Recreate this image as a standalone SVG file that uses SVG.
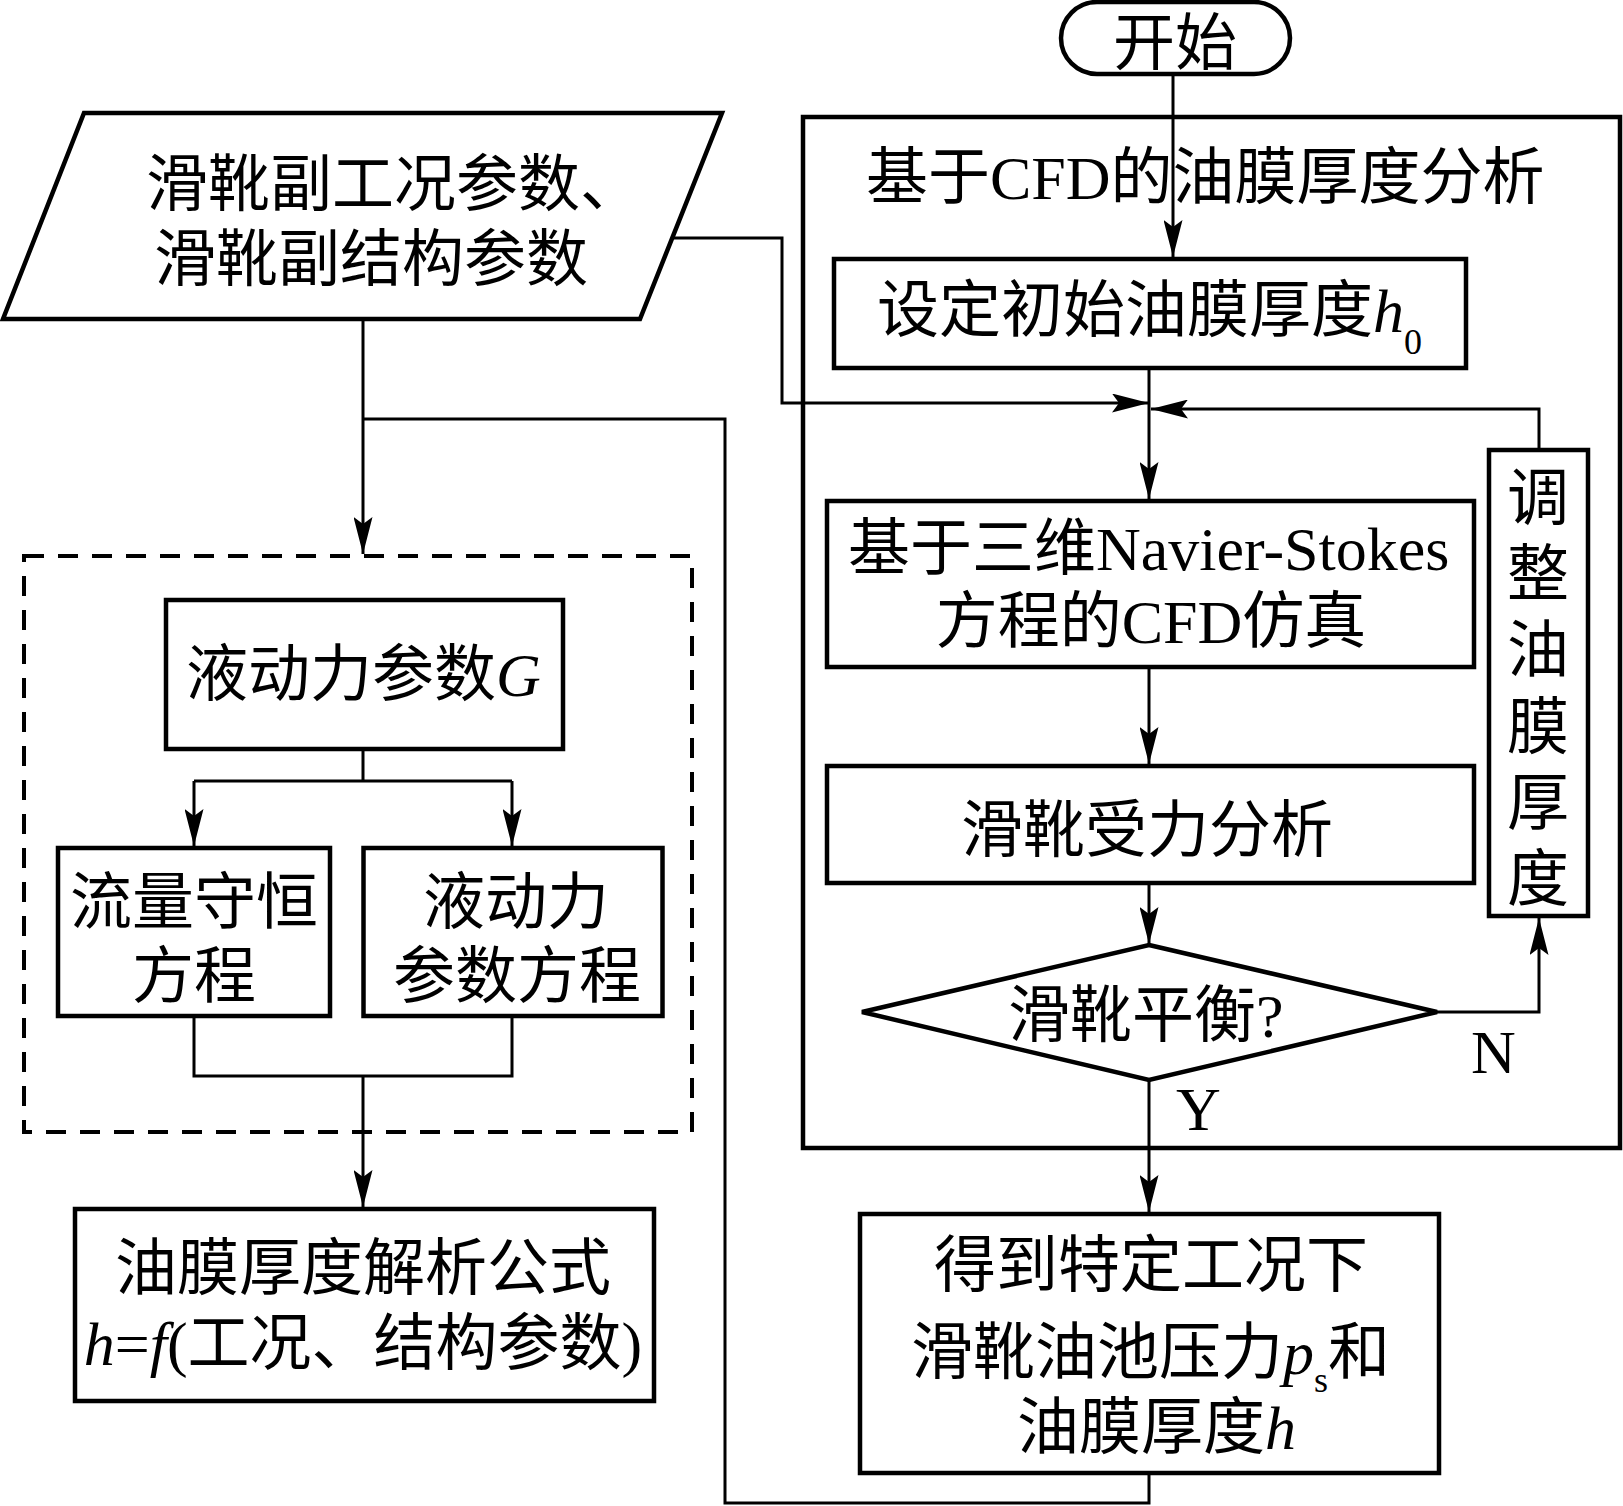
<svg xmlns="http://www.w3.org/2000/svg" width="1623" height="1506" viewBox="0 0 1623 1506">
<style>
.box{fill:#fff;stroke:#000;stroke-width:4.5}
.dash{fill:none;stroke:#000;stroke-width:4;stroke-dasharray:20 14}
.con{fill:none;stroke:#000;stroke-width:3}
.t{font-family:"Liberation Serif","Noto Sans CJK SC",serif;font-size:62px;fill:#000}
.m{text-anchor:middle}
.i{font-style:italic}
</style>
<defs>
<marker id="arr" markerUnits="userSpaceOnUse" viewBox="0 0 37 19" refX="37" refY="9.5" markerWidth="37" markerHeight="19" orient="auto">
<path d="M37,9.5 L0,0 L7,9.5 L0,19 Z" fill="#000"/>
</marker>
</defs>
<rect width="1623" height="1506" fill="#fff"/>

<g id="outer-cfd">
<rect x="803" y="117" width="817" height="1031" fill="none" stroke="#000" stroke-width="4.5"/>
<text class="t" x="866" y="199">基于CFD的油膜厚度分析</text>
</g>
<g id="dashed-group">
<rect class="dash" x="24" y="556" width="668" height="576"/>
</g>

<g id="connectors">
<path class="con" d="M1173,74 V257" marker-end="url(#arr)"/>
<path class="con" d="M1149,368 V499" marker-end="url(#arr)"/>
<path class="con" d="M672,238 H782 V403 H1149" marker-end="url(#arr)"/>
<path class="con" d="M1539,450 V409 H1151" marker-end="url(#arr)"/>
<path class="con" d="M1149,667 V764" marker-end="url(#arr)"/>
<path class="con" d="M1149,883 V944" marker-end="url(#arr)"/>
<path class="con" d="M1437,1012 H1539 V918" marker-end="url(#arr)"/>
<path class="con" d="M1149,1080 V1212" marker-end="url(#arr)"/>
<path class="con" d="M1149,1473 V1503 H725 V419 H363"/>
<path class="con" d="M363,319 V554" marker-end="url(#arr)"/>
<path class="con" d="M363,749 V781 M194,781 H512"/>
<path class="con" d="M194,781 V846" marker-end="url(#arr)"/>
<path class="con" d="M512,781 V846" marker-end="url(#arr)"/>
<path class="con" d="M194,1016 V1076 H512 V1016"/>
<path class="con" d="M363,1076 V1207" marker-end="url(#arr)"/>
</g>

<g id="start">
<rect class="box" x="1061" y="2" width="229" height="72" rx="36" ry="36"/>
<text class="t m" x="1175" y="65">开始</text>
</g>

<g id="input">
<polygon class="box" points="84,113 722,113 640,319 3,319"/>
<text class="t" x="146" y="206">滑靴副工况参数、</text>
<text class="t" x="154" y="281">滑靴副结构参数</text>
</g>

<g id="set-h0">
<rect class="box" x="834" y="259" width="632" height="109"/>
<text class="t" x="877" y="332">设定初始油膜厚度<tspan class="i">h</tspan><tspan font-size="36" dy="22">0</tspan></text>
</g>

<g id="cfd-sim">
<rect class="box" x="827" y="501" width="647" height="166"/>
<text class="t" x="848" y="570">基于三维Navier-Stokes</text>
<text class="t m" x="1151" y="643">方程的CFD仿真</text>
</g>

<g id="force">
<rect class="box" x="827" y="766" width="647" height="117"/>
<text class="t m" x="1147" y="852">滑靴受力分析</text>
</g>

<g id="balance">
<polygon class="box" points="1149,945 1437,1012 1149,1080 862,1012"/>
<text class="t" x="1008" y="1037">滑靴平衡?</text>
<text class="t" x="1471" y="1073">N</text>
<text class="t" x="1176" y="1130">Y</text>
</g>

<g id="adjust">
<rect class="box" x="1489" y="450" width="99" height="466"/>
<text class="t m"><tspan x="1538" y="520">调</tspan><tspan x="1538" y="596">整</tspan><tspan x="1538" y="672">油</tspan><tspan x="1538" y="749">膜</tspan><tspan x="1538" y="825">厚</tspan><tspan x="1538" y="901">度</tspan></text>
</g>

<g id="result">
<rect class="box" x="860" y="1214" width="579" height="259"/>
<text class="t m" x="1151" y="1287">得到特定工况下</text>
<text class="t" x="911" y="1374">滑靴油池压力<tspan class="i">p</tspan><tspan font-size="36" dy="18">s</tspan><tspan dy="-18">和</tspan></text>
<text class="t" x="1017" y="1449">油膜厚度<tspan class="i">h</tspan></text>
</g>

<g id="hydro-G">
<rect class="box" x="166" y="600" width="397" height="149"/>
<text class="t" x="186" y="696">液动力参数<tspan class="i">G</tspan></text>
</g>

<g id="flow-eq">
<rect class="box" x="58" y="848" width="272" height="168"/>
<text class="t m" x="194" y="924">流量守恒</text>
<text class="t m" x="194" y="998">方程</text>
</g>

<g id="hydro-eq">
<rect class="box" x="363.5" y="848" width="299" height="168"/>
<text class="t m" x="516" y="924">液动力</text>
<text class="t m" x="517" y="998">参数方程</text>
</g>

<g id="formula">
<rect class="box" x="75" y="1209" width="579" height="192"/>
<text class="t m" x="363" y="1290">油膜厚度解析公式</text>
<text class="t m" x="363" y="1365"><tspan class="i">h</tspan>=<tspan class="i">f</tspan>(工况、结构参数)</text>
</g>
</svg>
